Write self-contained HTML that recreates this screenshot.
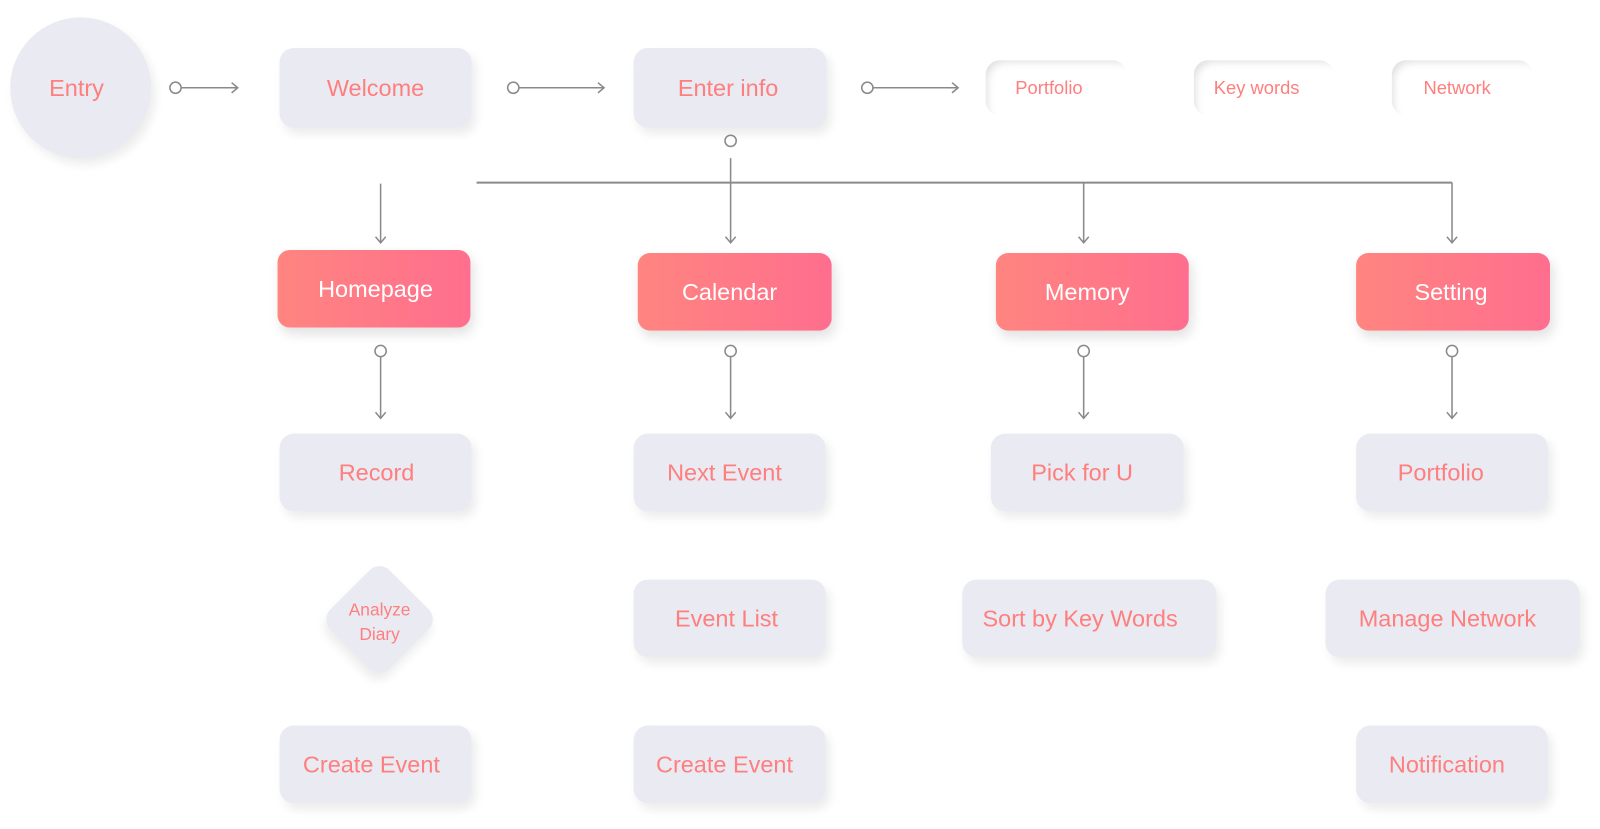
<!DOCTYPE html>
<html><head><meta charset="utf-8"><style>
body{margin:0;width:1600px;height:828px;background:#fff;position:relative;overflow:hidden;font-family:"Liberation Sans",sans-serif}
#c{position:absolute;left:0;top:0;width:1568px;height:812px;transform:scale(1.0204);transform-origin:0 0}
.n{position:absolute;background:#e9eaf2;border-radius:14px;box-shadow:4px 6px 10px rgba(0,0,0,0.08);color:#ff7e7e;font-size:23px;display:flex;align-items:center;justify-content:center;box-sizing:border-box}
.p{background:linear-gradient(90deg,#ff8580,#ff6e8e);color:#fff;box-shadow:3px 6px 12px rgba(0,0,0,0.12);border-radius:12px}
.w{position:absolute;background:#fff;border-radius:14px;box-shadow:inset 6px 6px 8px -4px rgba(0,0,0,0.12);color:#ff7e7e;font-size:18px;display:flex;align-items:center;justify-content:center;box-sizing:border-box;padding-right:14px}
svg{position:absolute;left:0;top:0}
</style></head><body><div id="c">
<div class="n" style="left:10px;top:17px;width:138px;height:138px;border-radius:50%;padding-right:8px">Entry</div>
<div class="n" style="left:274px;top:47px;width:188px;height:78px">Welcome</div>
<div class="n" style="left:621px;top:47px;width:189px;height:78px;padding-right:4px">Enter info</div>
<div class="w" style="left:966px;top:59px;width:138px;height:54px">Portfolio</div>
<div class="w" style="left:1170px;top:59px;width:137px;height:54px">Key words</div>
<div class="w" style="left:1364px;top:59px;width:138px;height:54px;padding-right:10px">Network</div>
<div class="n p" style="left:272px;top:245px;width:189px;height:76px;padding-left:3px">Homepage</div>
<div class="n p" style="left:625px;top:248px;width:190px;height:76px;padding-right:10px">Calendar</div>
<div class="n p" style="left:976px;top:248px;width:189px;height:76px;padding-right:10px">Memory</div>
<div class="n p" style="left:1329px;top:248px;width:190px;height:76px;padding-right:4px">Setting</div>
<div class="n" style="left:274px;top:425px;width:188px;height:76px;padding-left:2px">Record</div>
<div class="n" style="left:621px;top:425px;width:188px;height:76px;padding-right:10px">Next Event</div>
<div class="n" style="left:971px;top:425px;width:189px;height:76px;padding-right:10px">Pick for U</div>
<div class="n" style="left:1329px;top:425px;width:188px;height:76px;padding-right:22px">Portfolio</div>
<div class="n" style="left:331px;top:566px;width:82px;height:82px;transform:rotate(45deg);border-radius:14px"></div>
<div style="position:absolute;left:312px;top:586px;width:120px;text-align:center;color:#ff7e7e;font-size:17px;line-height:24px">Analyze<br>Diary</div>
<div class="n" style="left:621px;top:568px;width:188px;height:76px;padding-right:6px">Event List</div>
<div class="n" style="left:943px;top:568px;width:249px;height:76px;padding-right:18px">Sort by Key Words</div>
<div class="n" style="left:1299px;top:568px;width:249px;height:76px;padding-right:10px">Manage Network</div>
<div class="n" style="left:274px;top:711px;width:188px;height:76px;padding-right:8px">Create Event</div>
<div class="n" style="left:621px;top:711px;width:188px;height:76px;padding-right:10px">Create Event</div>
<div class="n" style="left:1329px;top:711px;width:188px;height:76px;padding-right:10px">Notification</div>
<svg width="1568" height="812" fill="none" stroke="#8a8a8a" stroke-width="1.5">
<circle cx="172" cy="86" r="5.5"/><path d="M178 86H233M227 81L233 86L227 91"/>
<circle cx="503" cy="86" r="5.5"/><path d="M509 86H592M586 81L592 86L586 91"/>
<circle cx="850" cy="86" r="5.5"/><path d="M856 86H939M933 81L939 86L933 91"/>
<circle cx="716" cy="138" r="5.5"/>
<path d="M467 179H1423" stroke-width="2"/>
<path d="M373 180V238M368 232L373 238L378 232"/>
<path d="M716 155V238M711 232L716 238L721 232"/>
<path d="M1062 179V238M1057 232L1062 238L1067 232"/>
<path d="M1423 179V238M1418 232L1423 238L1428 232"/>
<circle cx="373" cy="344" r="5.5"/><path d="M373 350V410M368 404L373 410L378 404"/>
<circle cx="716" cy="344" r="5.5"/><path d="M716 350V410M711 404L716 410L721 404"/>
<circle cx="1062" cy="344" r="5.5"/><path d="M1062 350V410M1057 404L1062 410L1067 404"/>
<circle cx="1423" cy="344" r="5.5"/><path d="M1423 350V410M1418 404L1423 410L1428 404"/>
</svg>
</div></body></html>
